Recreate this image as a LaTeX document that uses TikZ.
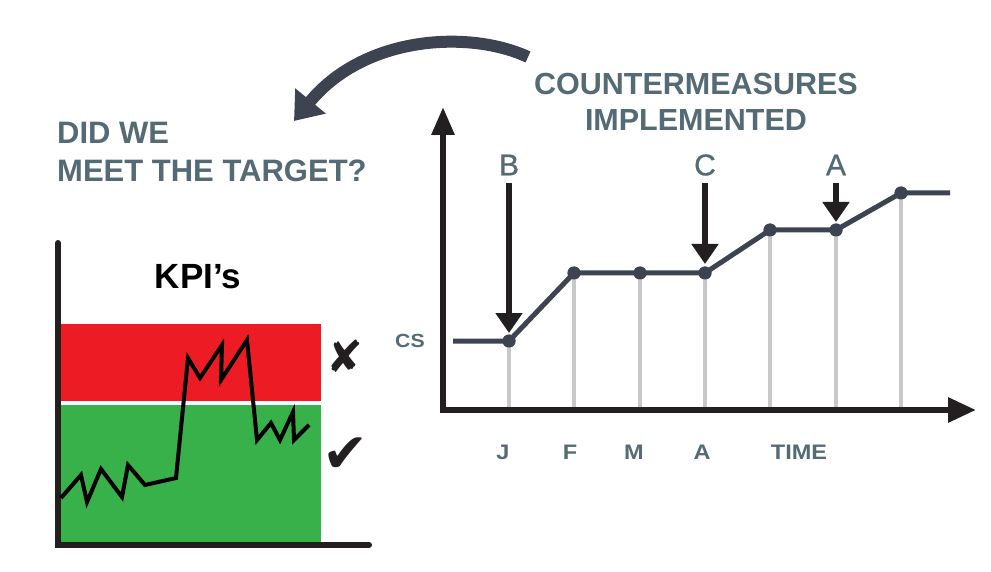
\documentclass[tikz,border=0pt]{standalone}
\usepackage{fontspec}
\setmainfont{Liberation Sans}
\newfontfamily\symfont{DejaVu Sans}
\newfontfamily\widefont[FakeStretch=1.12]{Liberation Sans Bold}
\newfontfamily\midfont[FakeBold=0.8]{Liberation Sans}
\usetikzlibrary{arrows.meta}
\definecolor{slate}{HTML}{546A75}
\definecolor{darkline}{HTML}{3D4350}
\definecolor{inkblack}{HTML}{231F20}
\definecolor{kpired}{HTML}{ED1C24}
\definecolor{kpigreen}{HTML}{39B14A}
\definecolor{guide}{HTML}{C8C8C8}
\tikzset{
  title/.style={text=slate, font=\fontsize{31}{36}\selectfont\bfseries, inner sep=0pt, align=left},
  letter/.style={text=slate, font=\midfont\fontsize{30}{32}\selectfont, inner sep=0pt},
  tick/.style={text=slate, font=\widefont\fontsize{21}{23}\selectfont, inner sep=0pt},
  dot/.style={circle, fill=darkline, minimum size=13pt, inner sep=0pt},
  guideline/.style={draw=guide, line width=4pt},
  axis/.style={draw=inkblack, line width=6pt},
  downarrow/.style={draw=inkblack, line width=6pt, -{Triangle[width=26pt,length=20pt]}},
}
\begin{document}
\begin{tikzpicture}[x=1pt,y=-1pt]
\useasboundingbox (0,0) rectangle (991,572);

% ---- curved arrow ----
\coordinate (cstart) at (528,57);
\coordinate (cend) at (294,121);
\draw[draw=darkline, line width=12pt, -{Triangle[width=38pt,length=26pt]}]
  (cstart) .. controls (470,30) and (365,35) .. (cend);

% ---- titles ----
\node[title, font=\fontsize{30.5}{36}\selectfont\bfseries, align=center] (cm) at (696,102) {COUNTERMEASURES\\IMPLEMENTED};
\node[title, anchor=west] (dw) at (57,133) {DID WE};
\node[title, anchor=west] (mt) at (57,171) {MEET THE TARGET?};

% ---- left chart ----
\fill[kpired] (61,324) rectangle (321,401);
\fill[kpigreen] (61,405) rectangle (321,543);
\draw[axis, line cap=round] (58,243) -- (58,545) -- (369,545);
\node[inner sep=0pt, font=\fontsize{35}{37}\selectfont\bfseries] (kpi) at (198,277) {KPI’s};
\draw[black, line width=4pt, line join=miter]
  (61,498) -- (81,475) -- (87,502) -- (101,469) -- (122,497) -- (128,465) -- (145,485)
  -- (176,478) -- (188,358) -- (200,378) -- (222,345) -- (221,380) -- (247,340)
  -- (257,440) -- (271,423) -- (280,440) -- (293,412) -- (294,440) -- (309,425);
\node[inner sep=0pt, text=inkblack, font=\symfont\fontsize{44}{46}\selectfont] (xmark) at (345,356) {✘};
\node[inner sep=0pt, text=inkblack, font=\symfont\fontsize{55}{57}\selectfont] (cmark) at (346,455) {✔};

% ---- right chart ----
\coordinate (p0) at (453,341);
\node[dot] (p1) at (509,341) {};
\node[dot] (p2) at (574,273) {};
\node[dot] (p3) at (640,273) {};
\node[dot] (p4) at (705,273) {};
\node[dot] (p5) at (770,230) {};
\node[dot] (p6) at (836,230) {};
\node[dot] (p7) at (901,193) {};
\coordinate (p8) at (950,193);
\foreach \i in {1,...,7} {
  \draw[guideline] (p\i.center) -- (p\i.center |- 0,408);
}
\draw[axis, -{Triangle[width=22pt,length=28pt]}] (443,410) -- (443,107);
\draw[axis, -{Triangle[width=24pt,length=28pt]}] (440,410) -- (976,410);
\draw[draw=darkline, line width=5pt, line join=round]
  (p0) -- (p1.center) -- (p2.center) -- (p3.center) -- (p4.center) -- (p5.center) -- (p6.center) -- (p7.center) -- (p8);
\foreach \i in {1,...,7} { \node[dot] at (p\i) {}; }

% arrows with letters
\node[letter] (lb) at (509,165) {B};
\node[letter] (lc) at (705,165) {C};
\node[letter] (la) at (836,165) {A};
\coordinate (ab) at (509,183); \coordinate (abt) at (509,333);
\coordinate (ac) at (705,183); \coordinate (act) at (705,264);
\coordinate (aa) at (836,183); \coordinate (aat) at (836,222);
\draw[downarrow] (ab) -- (abt);
\draw[downarrow] (ac) -- (act);
\draw[downarrow] (aa) -- (aat);

% axis labels
\node[tick, font=\widefont\fontsize{19}{21}\selectfont] (cs) at (410,341) {CS};
\node[tick] (mj) at (503,452) {J};
\node[tick] (mf) at (570,452) {F};
\node[tick] (mm) at (634,452) {M};
\node[tick] (ma) at (702,452) {A};
\node[tick] (time) at (799,452) {TIME};
\end{tikzpicture}
\end{document}
